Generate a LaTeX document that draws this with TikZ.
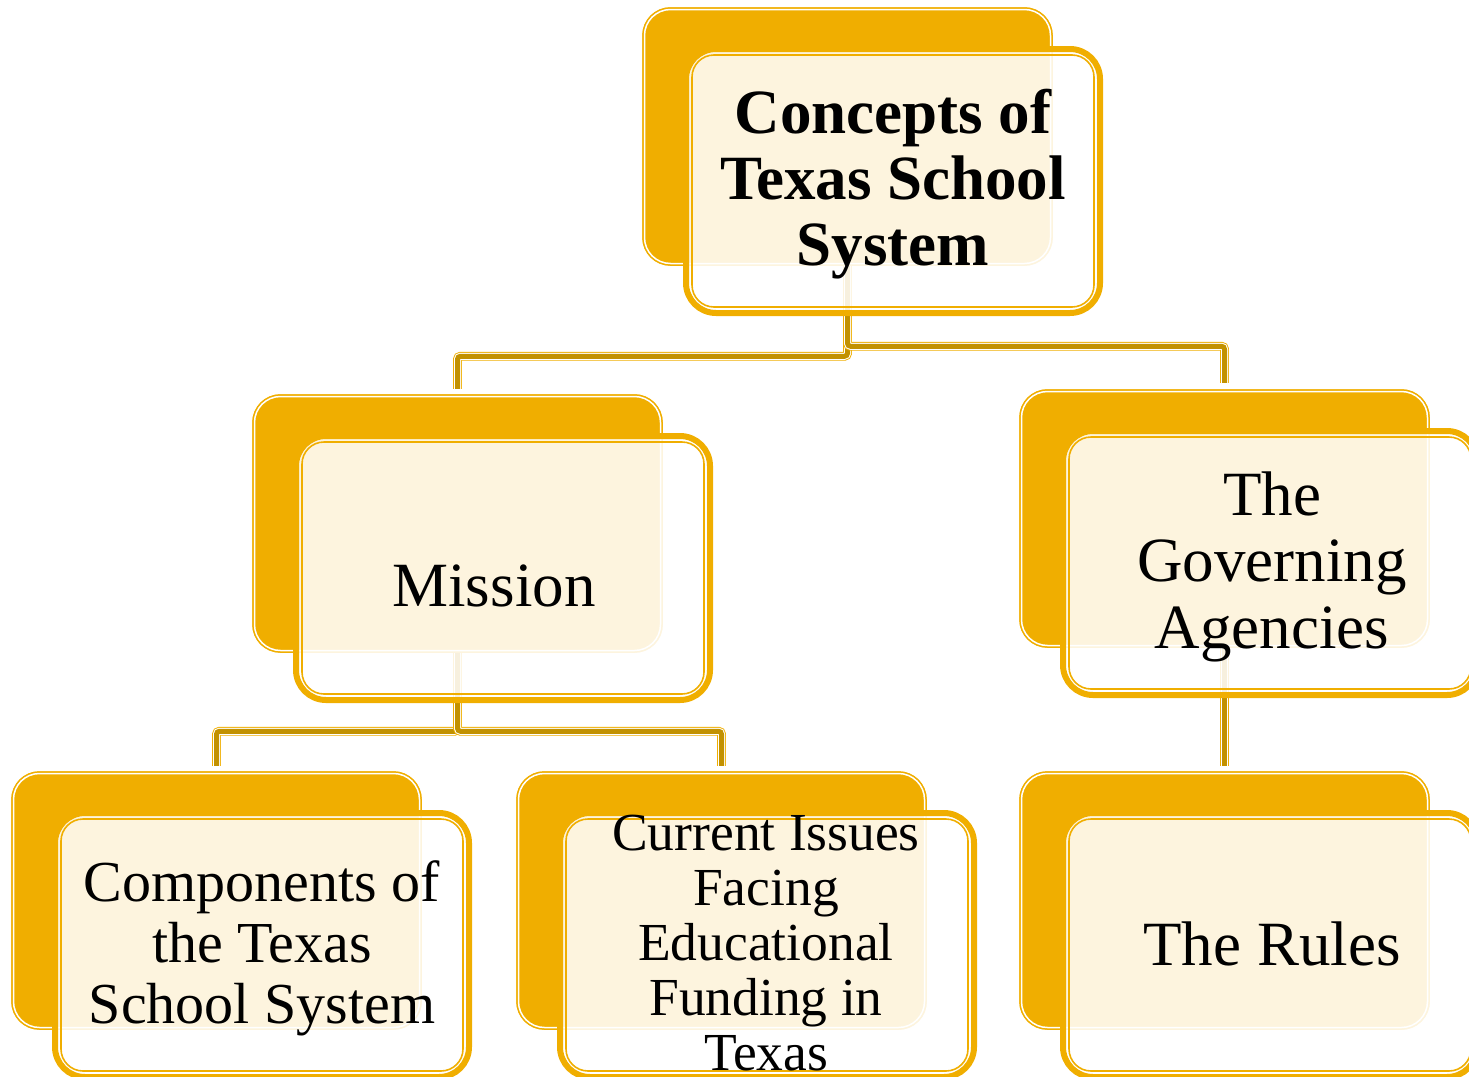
\documentclass[tikz,border=0pt]{standalone}
\usepackage{fontspec}
\setmainfont{Liberation Serif}
\usetikzlibrary{calc}
\definecolor{gold}{RGB}{240,174,0}
\definecolor{darkgold}{RGB}{194,145,0}
\begin{document}
\begin{tikzpicture}[x=1pt,y=-1pt,
  backbox/.style={draw=gold, line width=1.5pt, double=white, double distance=1.5pt,
    fill=gold, rounded corners=26pt, minimum width=406pt, minimum height=254pt, inner sep=0pt},
  frontbox/.style={draw=gold, line width=6pt, fill=white, fill opacity=0.87,
    rounded corners=30pt, minimum width=414pt, minimum height=264pt, inner sep=0pt},
  innerline/.style={draw=gold, line width=1.6pt, rounded corners=22pt},
  conn/.style={draw=darkgold, line width=5pt, rounded corners=3pt,
    preaction={draw=gold, line width=0.9pt, double=white, double distance=7pt}},
  lbl/.style={anchor=base, inner sep=0pt, text=black}
]
\useasboundingbox (0,0) rectangle (1469,1076);
\clip (0,0) rectangle (1469,1076);

% top-left corners of the back boxes
\coordinate (pT) at (643,8);
\coordinate (pM) at (253,395);
\coordinate (pG) at (1020,390);
\coordinate (pC) at (12,772);
\coordinate (pI) at (517,772);
\coordinate (pR) at (1020,772);

% back boxes
\node[backbox] (bT) at ($(pT)+(204.5,128.5)$) {};
\node[backbox] (bM) at ($(pM)+(204.5,128.5)$) {};
\node[backbox] (bG) at ($(pG)+(204.5,128.5)$) {};
\node[backbox] (bC) at ($(pC)+(204.5,128.5)$) {};
\node[backbox] (bI) at ($(pI)+(204.5,128.5)$) {};
\node[backbox] (bR) at ($(pR)+(204.5,128.5)$) {};

% connectors (drawn under the translucent front boxes)
\draw[conn, shorten >=7pt] (bT.south) -- ++(0,92) -| (bM.north);
\draw[conn, shorten >=8pt] (bT.south) -- ++(0,82) -| (bG.north);
\draw[conn, shorten >=7pt] (bM.south) -- ++(0,80) -| (bC.north);
\draw[conn, shorten >=7pt] (bM.south) -- ++(0,80) -| (bI.north);
\draw[conn, shorten >=7pt] (bG.south) -- (bR.north);

% redraw back boxes over connector starts
\node[backbox] at (bT) {};
\node[backbox] at (bM) {};
\node[backbox] at (bG) {};
\node[backbox] at (bC) {};
\node[backbox] at (bI) {};
\node[backbox] at (bR) {};

% front boxes
\node[frontbox] (fT) at ($(pT)+(250,173)$) {};
\node[frontbox] (fM) at ($(pM)+(250,173)$) {};
\node[frontbox] (fG) at ($(pG)+(250,173)$) {};
\node[frontbox] (fC) at ($(pC)+(250,173)$) {};
\node[frontbox] (fI) at ($(pI)+(250,173)$) {};
\node[frontbox] (fR) at ($(pR)+(250,173)$) {};
\foreach \n in {fT,fM,fG,fC,fI,fR}{
  \draw[innerline] ($(\n.south west)+(9,-9)$) rectangle ($(\n.north east)+(-9,9)$);
}

% texts
\node[lbl, font=\bfseries\fontsize{63}{66}\selectfont] (tT) at (893,133)
  {\parbox[t]{440pt}{\centering Concepts of\\Texas School\\System}};
\node[lbl, font=\fontsize{63}{66}\selectfont] (tM) at (494,606) {Mission};
\node[lbl, font=\fontsize{63}{66.5}\selectfont] (tG) at (1272,515)
  {\parbox[t]{440pt}{\centering The\\Governing\\Agencies}};
\node[lbl, font=\fontsize{58}{61}\selectfont] (tC) at (262,901)
  {\parbox[t]{440pt}{\centering Components of\\the Texas\\School System}};
\node[lbl, font=\fontsize{53.5}{55}\selectfont] (tI) at (766,850)
  {\parbox[t]{440pt}{\centering Current Issues\\Facing\\Educational\\Funding in\\Texas}};
\node[lbl, font=\fontsize{63}{66}\selectfont] (tR) at (1272,965) {The Rules};
\end{tikzpicture}
\end{document}
